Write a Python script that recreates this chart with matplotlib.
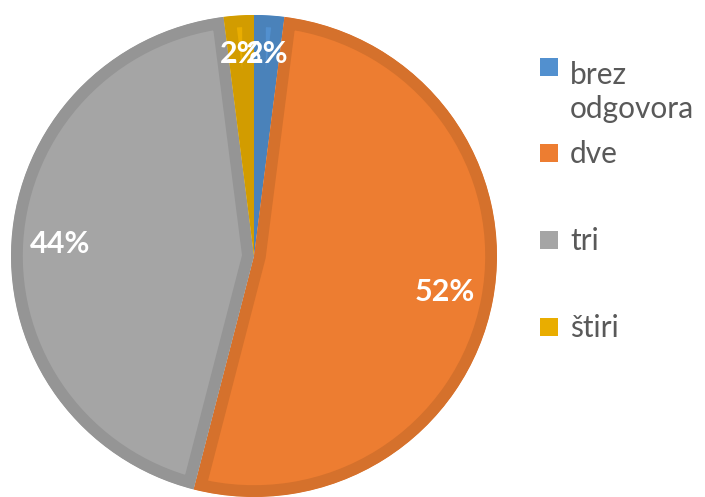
import matplotlib
matplotlib.use("Agg")
import numpy as np
import matplotlib.pyplot as plt
from matplotlib.patches import Rectangle
from matplotlib.colors import to_rgb

plt.rcParams['font.family'] = ['Lato', 'DejaVu Sans']

labels = ["brez\nodgovora", "dve", "tri", "štiri"]
shares = [2, 52, 44, 2]
colors = ["#5290cf", "#ed7d31", "#a5a5a5", "#e9ad00"]

# legend rows in pixels from the top: square centre and last text baseline
legend_squares = [67, 153, 240, 327]
legend_baselines = [118, 163, 250, 337]

W, H = 705, 497
fig = plt.figure(figsize=(W / 100, H / 100), dpi=100)
ax = fig.add_axes([11 / W, 0, 486 / W, 482 / H])


def darker(c, f=0.9):
    r, g, b = to_rgb(c)
    return (r * f, g * f, b * f)


wedges, _, autotexts = ax.pie(
    shares, colors=colors, startangle=90, counterclock=False,
    autopct=lambda p: f"{p:.0f}%", pctdistance=0.8,
    textprops=dict(color="white", fontsize=22, fontweight="bold"),
)
ax.set_aspect("auto")
ax.set_xlim(-1, 1)
ax.set_ylim(-1, 1)
ax.axis("off")

# darker inner border on each slice (stroke clipped to the slice itself)
for w, c in zip(wedges, colors):
    w.set_edgecolor(darker(c))
    w.set_linewidth(17)
    w.set_clip_on(True)
    w.set_clip_path(w)

# narrow slices get their labels a little further out
for w, t in zip(wedges, autotexts):
    if abs(w.theta2 - w.theta1) < 20:
        a = np.deg2rad((w.theta1 + w.theta2) / 2)
        t.set_position((0.84 * np.cos(a), 0.84 * np.sin(a)))

# legend drawn by hand to keep the uneven row spacing
for lab, c, ys, yb in zip(labels, colors, legend_squares, legend_baselines):
    fig.add_artist(Rectangle((540 / W, 1 - (ys + 9) / H), 18 / W, 18 / H,
                             transform=fig.transFigure, facecolor=c,
                             edgecolor="none"))
    fig.text(570 / W, 1 - yb / H, lab, fontsize=21.5, color="#595959",
             va="baseline", ha="left", linespacing=1.25)

fig.savefig("out.png", dpi=100)
